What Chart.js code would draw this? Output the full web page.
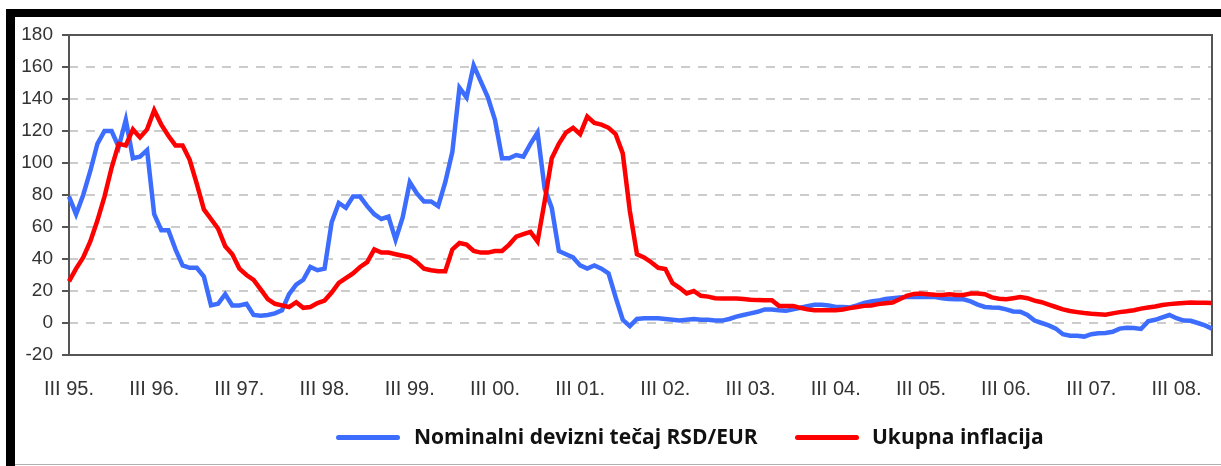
<!DOCTYPE html>
<html>
<head>
<meta charset="utf-8">
<script src="https://cdn.jsdelivr.net/npm/chart.js@4/dist/chart.umd.min.js"></script>
<style>
  html,body{margin:0;padding:0;background:#fff;}
  body{width:1221px;height:466px;position:relative;overflow:hidden;font-family:"Liberation Sans",Arial,sans-serif;}
  #chart{position:absolute;left:0;top:0;width:1221px;height:466px;}
  .bar{position:absolute;background:#000;}
  #topBar{left:6px;top:9px;width:1215px;height:8px;}
  #leftBar{left:6px;top:9px;width:9px;height:457px;}
  #bottomLine{position:absolute;left:15px;top:464px;width:1206px;height:1px;background:#b0b0b0;}
  .lg-line{position:absolute;height:5px;border-radius:3px;top:435px;}
  .lg-text{position:absolute;top:422px;font-family:"Open Sans",sans-serif;font-weight:bold;font-size:21px;color:#111;white-space:nowrap;}
</style>
</head>
<body>
<canvas id="chart" width="1221" height="466"></canvas>
<div class="bar" id="topBar"></div>
<div class="bar" id="leftBar"></div>
<div id="bottomLine"></div>
<div id="legend"></div>
<script>
// Data (monthly, III 1995 - VIII 2008)
const romanMonths=['I','II','III','IV','V','VI','VII','VIII','IX','X','XI','XII'];
const startYear=1995, startMonth=2; // March
const seriesNames=['Nominalni devizni tečaj RSD/EUR','Ukupna inflacija'];
const seriesColors=['#3d6dff','#ff0000'];

const exchangeRate=[
  79,68,80,95,112,120,120,110,127,103,104,108,
  68,58,58,46,36,34.5,34.5,29,11,12,18,11,
  11,12,5,4.5,5,6,8,18,24,27,35,33,
  34,63,75,72,79,79,73,68,65,66.5,52,66,
  88,81,76,76,73,88,107,147,141,161,151,141,
  127,103,103,105,104,112,119,84,72,45,43,41,
  36,34,36,34,31,16,2,-2,2.5,3,3,3,
  2.5,2,1.5,2,2.5,2,2,1.5,1.5,2.5,4,5,
  6,7,8.5,8.5,8,7.6,8.5,9.5,10.5,11.4,11.4,11,
  10,10,9.7,11,12.5,13.5,14,15,15.5,16,16.3,16.3,
  16.3,16.3,16.3,15.5,15,14.8,14.8,13.5,11.5,10,9.7,9.5,
  8.5,7.2,7,5,1.5,0,-1.5,-3.5,-7,-8,-8,-8.5,
  -7,-6.4,-6.2,-5.5,-3.5,-3,-3.1,-3.7,1,2,3.5,5,
  3,1.5,1.4,0,-1.5,-3.5
];
const inflation=[
  26,34,41,51,64,79,97,112,111,121,116,121,
  133,124,117,111,111,102,87,71,65,59,48,43,
  34,30,27,21,15,12,11,10,13,9.5,10,12.5,
  14,19,25,28,31,35,38,46,44,44,43,42,
  41,38,34,33,32.4,32.4,46,50,49,45,44,44,
  45,45,49,54,55.5,57,51,76,103,112,119,122,
  118,129,125,124,122,118,106,70,43,41,38,34.5,
  33.8,25,22,18.5,20,17,16.5,15.5,15.3,15.3,15.3,15,
  14.6,14.3,14.2,14.2,10.7,10.7,10.7,9.5,8.5,8,8,8,
  8,8.5,9.3,10,10.7,11,11.8,12.3,12.8,14.8,17,18.2,
  18.4,18,17.6,17.5,18,17.5,17.5,18.4,18.4,18,16,15.2,
  14.8,15.5,16.3,15.5,14,13,11.5,10,8.5,7.5,6.8,6.2,
  5.8,5.5,5.2,6,6.8,7.3,8,9,9.7,10.3,11.2,11.8,
  12.2,12.5,12.8,12.7,12.6,12.5
];
const yMin=-20, yMax=180, yStep=20;

// month categories
const categories=exchangeRate.map((v,i)=>{
  const m=(startMonth+i)%12;
  const y=startYear+Math.floor((startMonth+i)/12);
  return romanMonths[m]+' '+String(y).slice(2)+'.';
});

// plot frame plugin
const frame={
  id:'frame',
  beforeDatasetsDraw(chart){
    const a=chart.chartArea, c=chart.ctx;
    c.save();
    c.strokeStyle='#555';
    c.lineWidth=2;
    c.strokeRect(a.left,a.top,a.right-a.left,a.bottom-a.top);
    c.restore();
  }
};

const ctx=document.getElementById('chart').getContext('2d');
const chart=new Chart(ctx,{
  type:'line',
  data:{
    labels:categories,
    datasets:[
      {label:seriesNames[0],data:exchangeRate,borderColor:seriesColors[0],borderWidth:4.5,pointRadius:0,tension:0,order:1},
      {label:seriesNames[1],data:inflation,borderColor:seriesColors[1],borderWidth:4.5,pointRadius:0,tension:0,order:0}
    ]
  },
  options:{
    responsive:false,
    animation:false,
    devicePixelRatio:1,
    layout:{padding:{left:0,top:35,right:9,bottom:0}},
    plugins:{legend:{display:false},tooltip:{enabled:false}},
    scales:{
      x:{
        offset:false,
        grid:{display:false,drawTicks:false},
        border:{display:false},
        ticks:{
          autoSkip:false,maxRotation:0,minRotation:0,padding:22,
          color:'#333',font:{family:'"Liberation Sans", Arial',size:20},
          callback:(v,i)=>categories[i].startsWith('III ')?categories[i]:''
        },
        afterFit:s=>{s.height=111;s.paddingLeft=0;s.paddingRight=0;}
      },
      y:{
        min:yMin,max:yMax,
        grid:{color:'#cccccc',lineWidth:2,tickLength:7,tickColor:'#555',tickWidth:2,tickBorderDash:[]},
        border:{display:false,dash:[9,8]},
        ticks:{stepSize:yStep,padding:9,color:'#333',font:{family:'"Liberation Sans", Arial',size:19}},
        afterFit:s=>{s.width=69;s.paddingTop=0;s.paddingBottom=0;}
      }
    }
  },
  plugins:[frame]
});

// Legend
const legendEl=document.getElementById('legend');
const legendPos=[{line:336,text:414},{line:795,text:872}];
seriesNames.forEach((n,i)=>{
  const l=document.createElement('div');
  l.className='lg-line';
  l.style.left=legendPos[i].line+'px';
  l.style.width='64px';
  l.style.background=seriesColors[i];
  legendEl.appendChild(l);
  const t=document.createElement('div');
  t.className='lg-text';
  t.style.left=legendPos[i].text+'px';
  t.textContent=n;
  legendEl.appendChild(t);
});
</script>
</body>
</html>
